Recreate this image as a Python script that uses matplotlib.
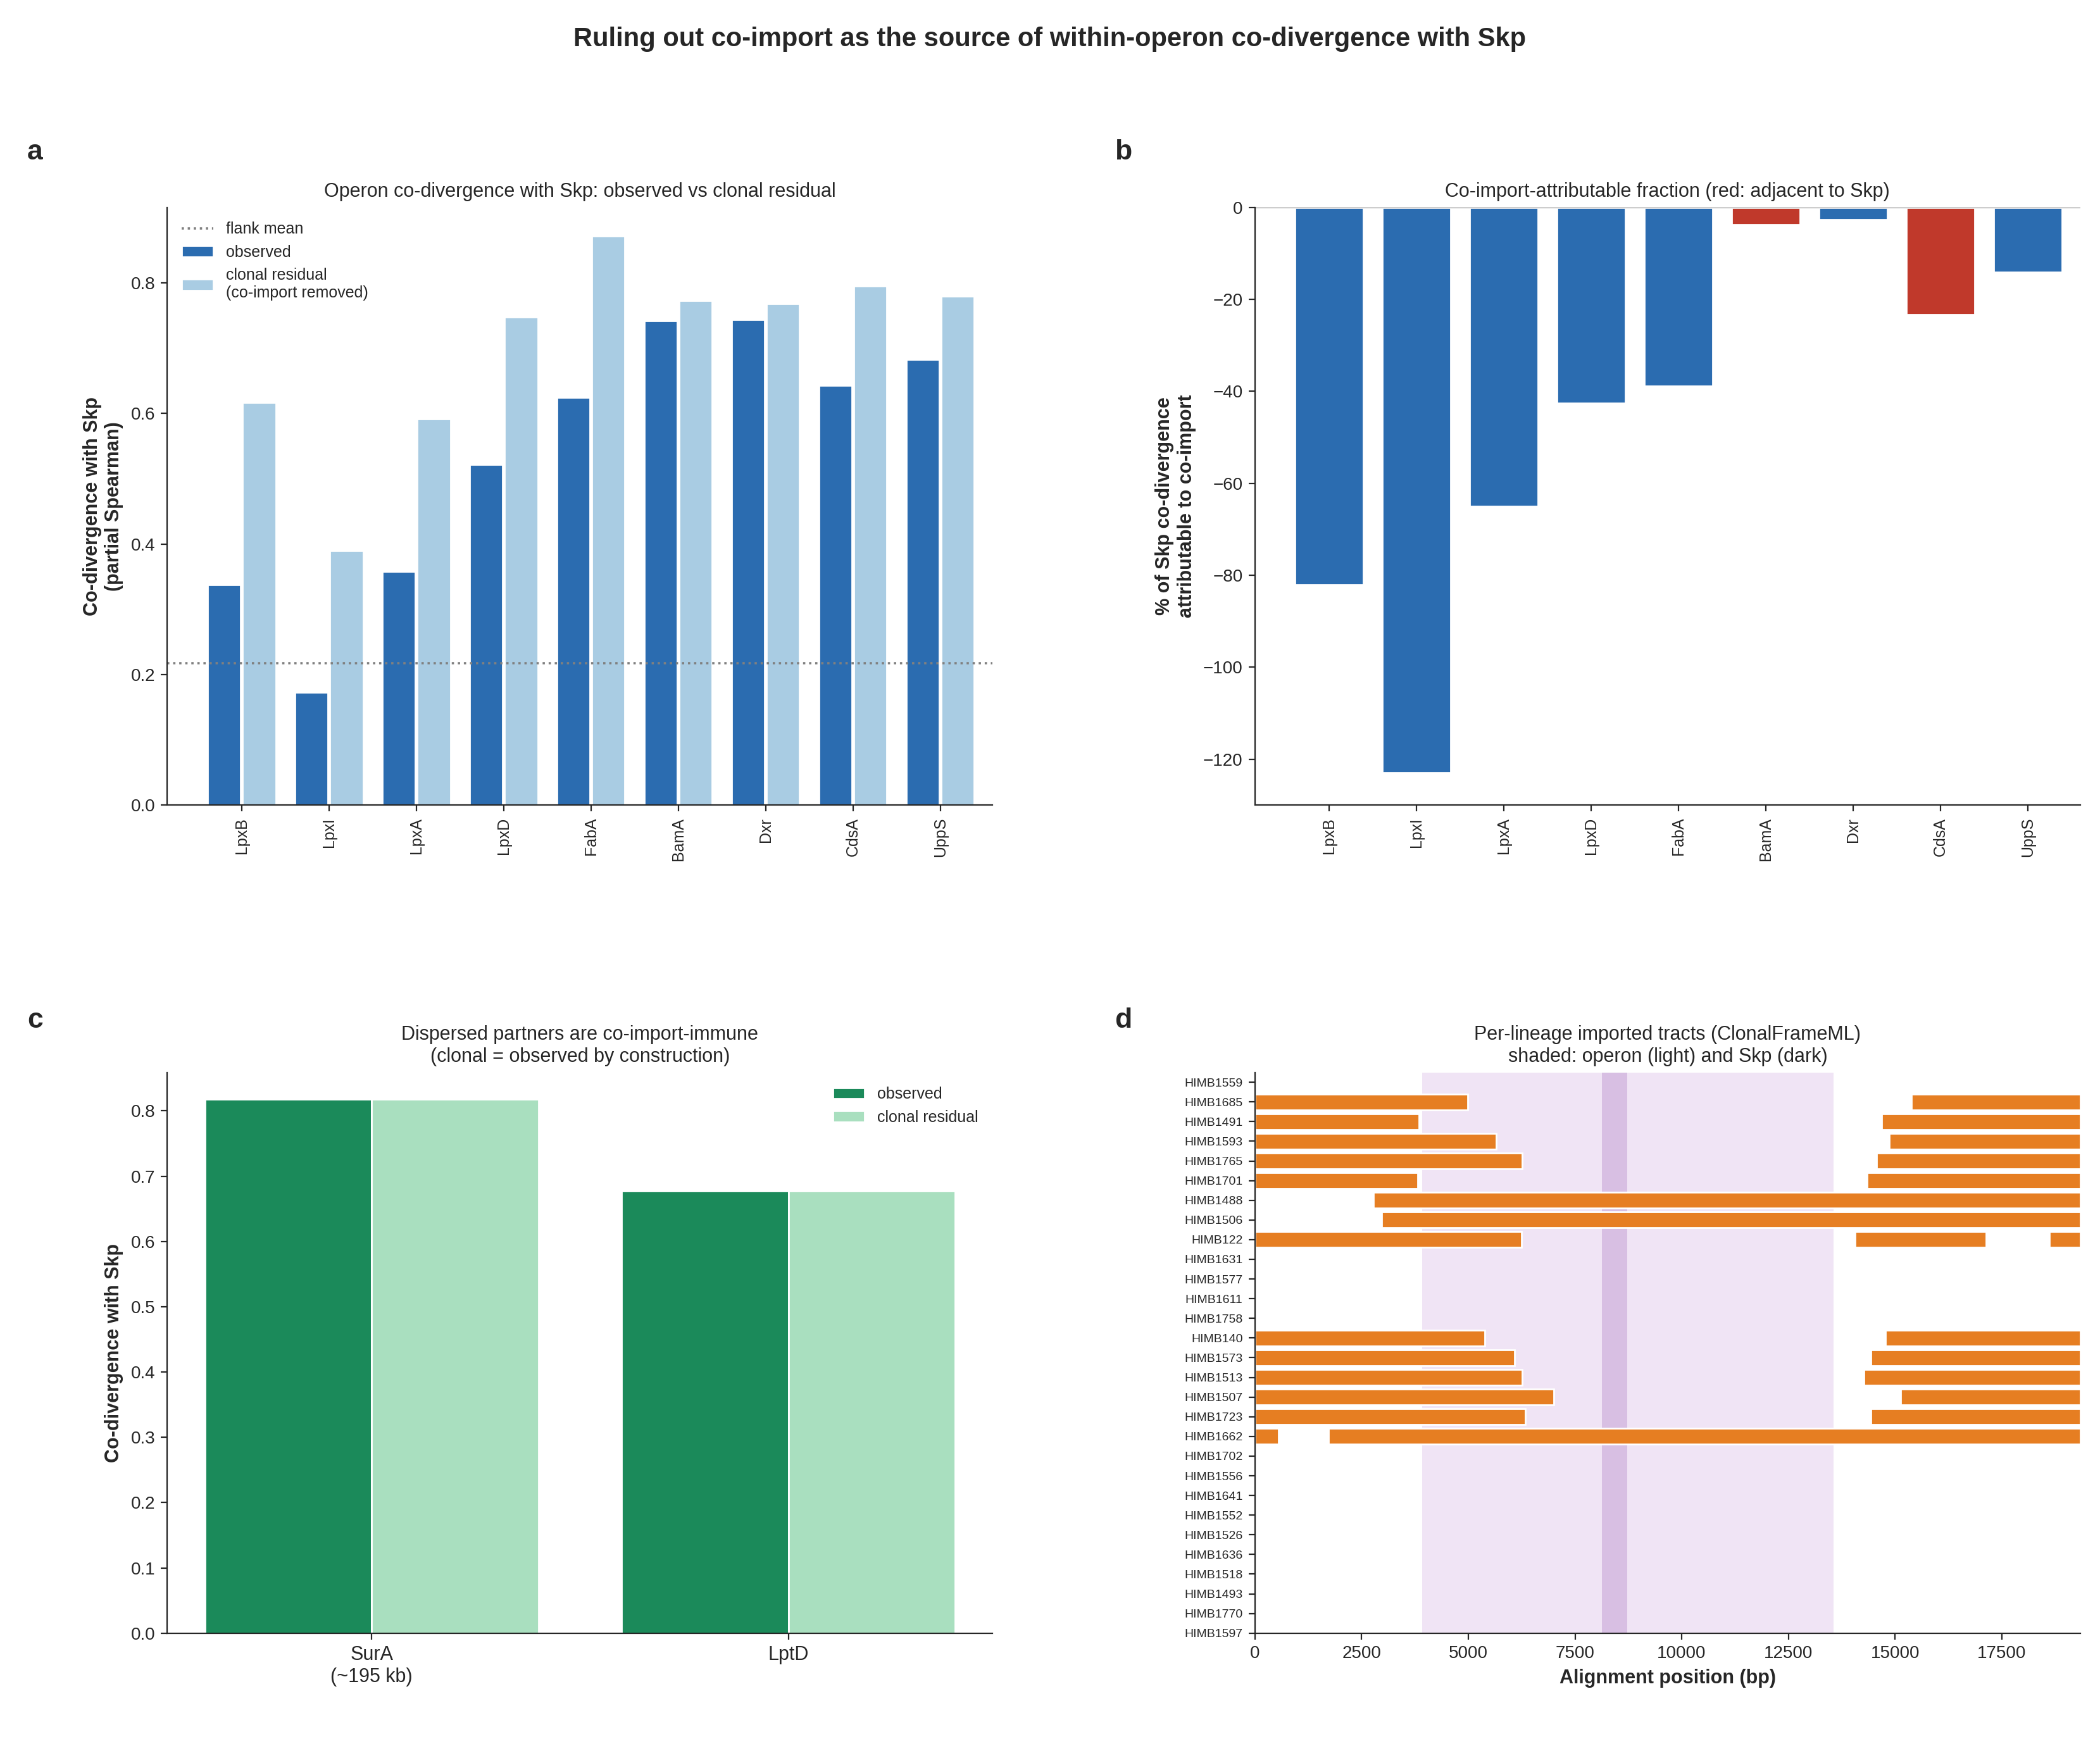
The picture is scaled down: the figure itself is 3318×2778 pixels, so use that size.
import numpy as np
import matplotlib.pyplot as plt
import seaborn as sns

sns.set_style("ticks")
plt.rcParams['font.family'] = ['Liberation Sans', 'DejaVu Sans']

genes = ["LpxB", "LpxI", "LpxA", "LpxD", "FabA", "BamA", "Dxr", "CdsA", "UppS"]
observed = [0.338, 0.173, 0.358, 0.522, 0.625, 0.742, 0.744, 0.643, 0.683]
clonal = [0.617, 0.390, 0.592, 0.748, 0.872, 0.773, 0.768, 0.795, 0.780]
flank_mean = 0.217

coimport_pct = [-82, -123, -65, -42.5, -38.8, -3.8, -2.7, -23.3, -14]
adjacent = [False, False, False, False, False, True, False, True, False]

dispersed = ["SurA\n(~195 kb)", "LptD"]
disp_obs = [0.818, 0.677]
disp_clonal = [0.818, 0.677]

lineages = ["HIMB1559", "HIMB1685", "HIMB1491", "HIMB1593", "HIMB1765", "HIMB1701",
            "HIMB1488", "HIMB1506", "HIMB122", "HIMB1631", "HIMB1577", "HIMB1611",
            "HIMB1758", "HIMB140", "HIMB1573", "HIMB1513", "HIMB1507", "HIMB1723",
            "HIMB1662", "HIMB1702", "HIMB1556", "HIMB1641", "HIMB1552", "HIMB1526",
            "HIMB1636", "HIMB1518", "HIMB1493", "HIMB1770", "HIMB1597"]
aln_len = 19340
tracts = {
    "HIMB1685": [(0, 4990), (15390, aln_len)],
    "HIMB1491": [(0, 3840), (14680, aln_len)],
    "HIMB1593": [(0, 5650), (14870, aln_len)],
    "HIMB1765": [(0, 6260), (14570, aln_len)],
    "HIMB1701": [(0, 3820), (14350, aln_len)],
    "HIMB1488": [(2770, aln_len)],
    "HIMB1506": [(2970, aln_len)],
    "HIMB122": [(0, 6240), (14070, 17130), (18610, aln_len)],
    "HIMB140": [(0, 5390), (14780, aln_len)],
    "HIMB1573": [(0, 6090), (14440, aln_len)],
    "HIMB1513": [(0, 6260), (14270, aln_len)],
    "HIMB1507": [(0, 7010), (15130, aln_len)],
    "HIMB1723": [(0, 6340), (14440, aln_len)],
    "HIMB1662": [(0, 550), (1720, aln_len)],
}
operon = (3920, 13560)
skp = (8130, 8720)

blue = "#2b6cb0"
lightblue = "#a9cce3"
red = "#c0392b"
green = "#1b8a5a"
lightgreen = "#a9dfbf"
orange = "#e67e22"

fig = plt.figure(figsize=(16.59, 13.89), dpi=200)
ax_a = fig.add_axes([0.0797, 0.542, 0.393, 0.340])
ax_b = fig.add_axes([0.5976, 0.542, 0.393, 0.340])
ax_c = fig.add_axes([0.0797, 0.071, 0.393, 0.319])
ax_d = fig.add_axes([0.5976, 0.071, 0.393, 0.319])

fig.suptitle("Ruling out co-import as the source of within-operon co-divergence with Skp",
             fontsize=15, fontweight="bold", y=0.985)

# a
x = np.arange(len(genes))
ax_a.axhline(flank_mean, color="grey", ls=":", lw=1.3, label="flank mean")
ax_a.bar(x - 0.2, observed, 0.38, color=blue, label="observed")
ax_a.bar(x + 0.2, clonal, 0.38, color=lightblue, label="clonal residual\n(co-import removed)")
ax_a.set_xticks(x)
ax_a.set_xticklabels(genes, rotation=90, fontsize=9)
ax_a.set_ylabel("Co-divergence with Skp\n(partial Spearman)", fontsize=11, fontweight="bold")
ax_a.set_title("Operon co-divergence with Skp: observed vs clonal residual", fontsize=11)
ax_a.set_xlim(-0.85, 8.6)
ax_a.legend(frameon=False, fontsize=9, loc="upper left")
sns.despine(ax=ax_a)

# b
ax_b.bar(x, coimport_pct, 0.78, color=[red if a else blue for a in adjacent])
ax_b.axhline(0, color="grey", lw=0.8)
ax_b.set_xticks(x)
ax_b.set_xticklabels(genes, rotation=90, fontsize=9)
ax_b.set_ylim(-130, 0)
ax_b.set_xlim(-0.85, 8.6)
ax_b.set_ylabel("% of Skp co-divergence\nattributable to co-import", fontsize=11, fontweight="bold")
ax_b.set_title("Co-import-attributable fraction (red: adjacent to Skp)", fontsize=11)
sns.despine(ax=ax_b)

# c
xc = np.arange(len(dispersed))
ax_c.bar(xc - 0.2, disp_obs, 0.4, color=green, edgecolor="white", label="observed")
ax_c.bar(xc + 0.2, disp_clonal, 0.4, color=lightgreen, edgecolor="white", label="clonal residual")
ax_c.set_xticks(xc)
ax_c.set_xticklabels(dispersed, fontsize=11)
ax_c.set_ylabel("Co-divergence with Skp", fontsize=11, fontweight="bold")
ax_c.set_title("Dispersed partners are co-import-immune\n(clonal = observed by construction)", fontsize=11)
ax_c.legend(frameon=False, fontsize=9, loc="upper right")
sns.despine(ax=ax_c)

# d
ax_d.axvspan(*operon, color="#f0e4f5", lw=0)
ax_d.axvspan(*skp, color="#d8bfe3", lw=0)
for i, name in enumerate(lineages):
    for s, e in tracts.get(name, []):
        ax_d.barh(i, e - s, left=s, height=0.8, color=orange)
ax_d.set_yticks(range(len(lineages)))
ax_d.set_yticklabels(lineages, fontsize=7)
ax_d.set_ylim(len(lineages) - 1, -0.5)
ax_d.set_xlim(0, aln_len)
ax_d.set_xlabel("Alignment position (bp)", fontsize=11, fontweight="bold")
ax_d.set_title("Per-lineage imported tracts (ClonalFrameML)\nshaded: operon (light) and Skp (dark)", fontsize=11)
sns.despine(ax=ax_d)

for ax, lab in [(ax_a, "a"), (ax_b, "b"), (ax_c, "c"), (ax_d, "d")]:
    ax.text(-0.17, 1.08, lab, transform=ax.transAxes, fontsize=16, fontweight="bold")

fig.savefig("out.png", dpi=200)
